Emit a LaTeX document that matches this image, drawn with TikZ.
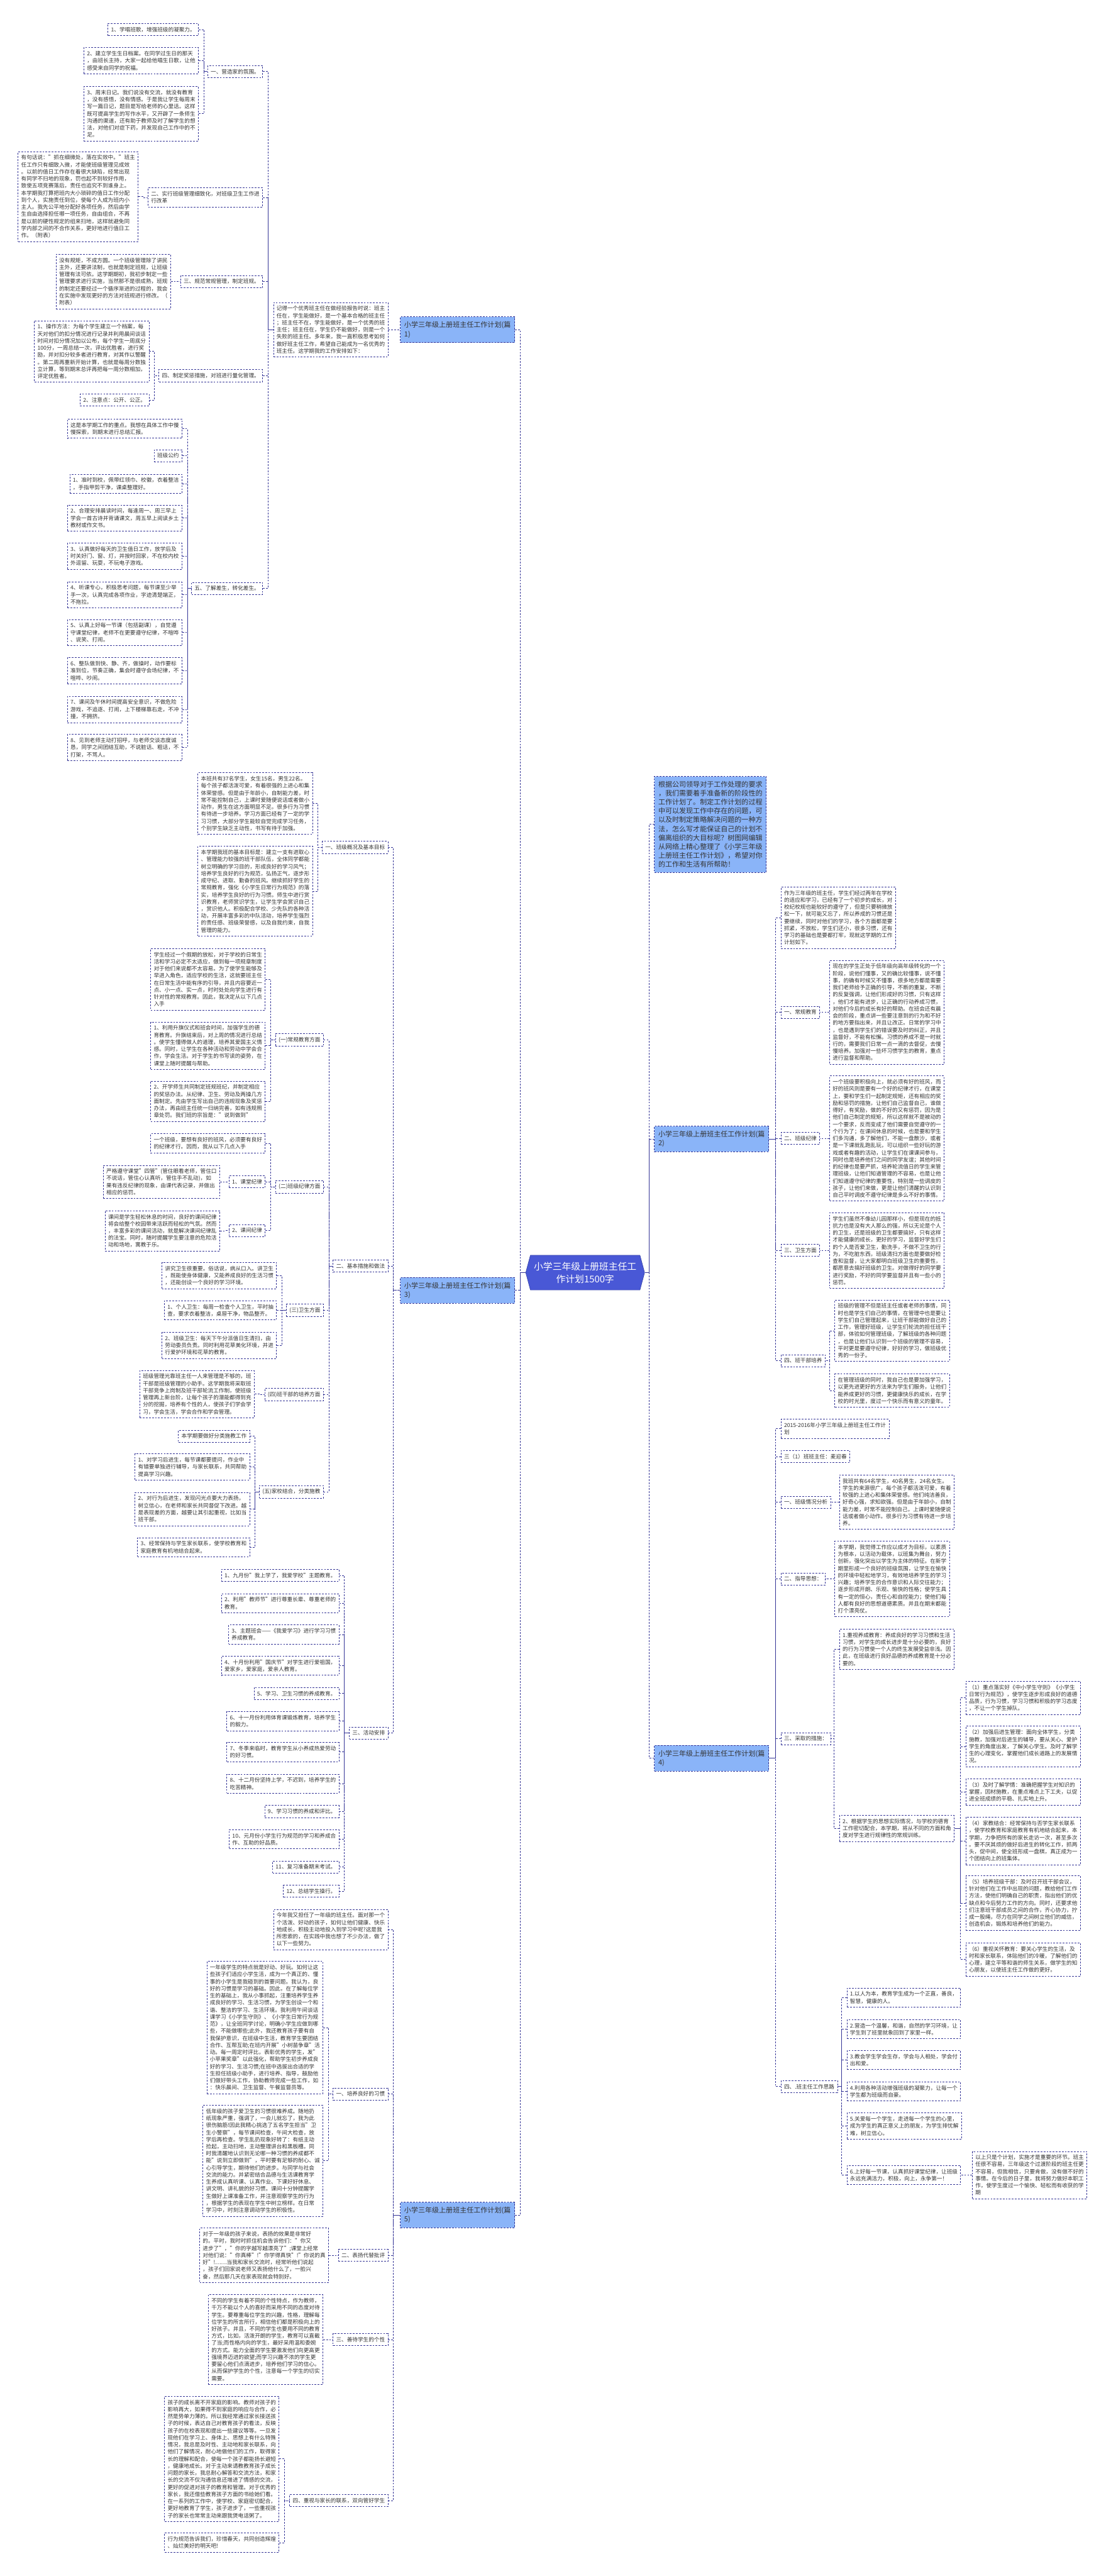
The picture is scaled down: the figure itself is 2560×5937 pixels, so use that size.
\documentclass[tikz,border=0pt]{standalone}
\usepackage{fontspec}
\setmainfont{Noto Sans CJK SC}
\usepackage{tikz}
\usetikzlibrary{shapes.symbols}
\definecolor{linkblue}{RGB}{52,52,150}
\definecolor{topicblue}{RGB}{138,180,248}
\definecolor{rootblue}{RGB}{73,88,214}
\definecolor{txtgray}{RGB}{51,51,51}

\begin{document}
\begin{tikzpicture}[
    x=1pt, y=-1pt,
    leaf/.style={draw=linkblue, dash pattern=on 4pt off 3pt, line width=1.2pt, fill=white, align=left,
        inner xsep=7pt, inner ysep=8pt, text=txtgray, font=\fontsize{12.5}{16.3}\selectfont},
    topic/.style={leaf, fill=topicblue, inner xsep=9pt, inner ysep=11pt, font=\fontsize{16}{20.5}\selectfont},
    mainnode/.style={signal, signal to=east and west, signal pointer angle=150, fill=rootblue,
        draw=rootblue!80!black, line width=1pt, text=white, align=center, inner xsep=8pt,
        minimum height=80pt, font=\fontsize{21.5}{28.7}\selectfont},
    link/.style={draw=linkblue, dash pattern=on 4pt off 3pt, line width=1.2pt}
]
\fill[white] (0,0) rectangle (2560,5937);
\useasboundingbox (0,0) rectangle (2560,5937);

\node[mainnode] (root) at (1349,2933) {小学三年级上册班主任工\\作计划1500字};

% 篇1
\node[topic, anchor=east] (p1) at (1187,760) {小学三年级上册班主任工作计划(篇\\1)};
\node[leaf, anchor=east] (p1i) at (895,760) {记得一个优秀班主任在做经验报告时说：班主\\任在，学生能做好，是一个基本合格的班主任\\；班主任不在，学生能做好，是一个优秀的班\\主任；班主任在，学生仍不能做好，则是一个\\失败的班主任。多年来，我一直积极思考如何\\做好班主任工作，希望自己能成为一名优秀的\\班主任。这学期我的工作安排如下：};
\node[leaf, anchor=east] (p1a) at (606,165) {一、营造家的氛围。};
\node[leaf, anchor=east] (p1a1) at (458,68) {1、学唱班歌，增强班级的凝聚力。};
\node[leaf, anchor=east] (p1a2) at (458,140) {2、建立学生生日档案。在同学过生日的那天\\，由班长主持，大家一起给他唱生日歌，让他\\感受来自同学的祝福。};
\node[leaf, anchor=east] (p1a3) at (458,262) {3、周末日记。我们说没有交流，就没有教育\\，没有感悟，没有情感。于是我让学生每周末\\写一篇日记，题目是写给老师的心里话。这样\\既可提高学生的写作水平，又开辟了一条师生\\沟通的渠道，还有助于教师及时了解学生的想\\法，对他们对症下药，并发现自己工作中的不\\足。};
\node[leaf, anchor=east] (p1b) at (606,455) {二、实行班级管理细致化，对班级卫生工作进\\行改革};
\node[leaf, anchor=east] (p1b1) at (319,453) {有句话说："抓在细微处，落在实效中。"班主\\任工作只有细致入微，才能使班级管理见成效\\。以前的值日工作存在着很大缺陷，经常出现\\有同学不扫地的现象，罚也起不到较好作用，\\致使五项竞赛落后，责任也追究不到谁身上。\\本学期我打算把班内大小琐碎的值日工作分配\\到个人，实施责任到位，使每个人成为班内小\\主人。我先公平地分配好各项任务，然后由学\\生自由选择担任哪一项任务，自由组合，不再\\是以前的硬性规定的组来扫地，这样就避免同\\学内部之间的不合作关系，更好地进行值日工\\作。（附表）};
\node[leaf, anchor=east] (p1c) at (606,649) {三、规范常规管理，制定班规。};
\node[leaf, anchor=east] (p1c1) at (394,649) {没有规矩，不成方圆。一个班级管理除了讲民\\主外，还要讲法制，也就是制定班规，让班级\\管理有法可依。这学期期初，我初步制定一些\\管理要求进行实施，当然那不是很成熟，班规\\的制定还要经过一个循序渐进的过程的，我会\\在实施中发现更好的方法对班规进行修改。（\\附表）};
\node[leaf, anchor=east] (p1d) at (606,866) {四、制定奖惩措施，对班进行量化管理。};
\node[leaf, anchor=east] (p1d1) at (344,810) {1、操作方法：为每个学生建立一个档案，每\\天对他们的扣分情况进行记录并利用晨间谈话\\时间对扣分情况加以公布，每个学生一周底分\\100分，一周总结一次，评出优胜者，进行奖\\励，并对扣分较多者进行教育，对其作以警醒\\。第二周再重新开始计算，也就是每周分数独\\立计算，等到期末总评再把每一周分数相加，\\评定优胜者。};
\node[leaf, anchor=east] (p1d2) at (344,922) {2、注意点：公开、公正。};
\node[leaf, anchor=east] (p1e) at (606,1356) {五、了解差生，转化差生。};
\node[leaf, anchor=east] (p1e1) at (420,988) {这是本学期工作的重点。我想在具体工作中慢\\慢探索，到期末进行总结汇报。};
\node[leaf, anchor=east] (p1e2) at (420,1050) {班级公约};
\node[leaf, anchor=east] (p1e3) at (420,1115) {1、准时到校，佩带红领巾、校徽，衣着整洁\\，手指甲剪干净，课桌整理好。};
\node[leaf, anchor=east] (p1e4) at (420,1194) {2、合理安排晨读时间，每逢周一、周三早上\\学会一首古诗并背诵课文，周五早上阅读乡土\\教材或作文书。};
\node[leaf, anchor=east] (p1e5) at (420,1282) {3、认真做好每天的卫生值日工作，放学后及\\时关好门、窗、灯，并按时回家，不在校内校\\外逗留、玩耍，不玩电子游戏。};
\node[leaf, anchor=east] (p1e6) at (420,1371) {4、听课专心，积极思考问题，每节课至少举\\手一次，认真完成各项作业，字迹清楚端正，\\不拖拉。};
\node[leaf, anchor=east] (p1e7) at (420,1458) {5、认真上好每一节课（包括副课），自觉遵\\守课堂纪律，老师不在更要遵守纪律，不喧哗\\、说笑、打闹。};
\node[leaf, anchor=east] (p1e8) at (420,1546) {6、整队做到快、静、齐，做操时，动作要标\\准到位，节奏正确，集会时遵守会场纪律，不\\喧哗、吵闹。};
\node[leaf, anchor=east] (p1e9) at (420,1635) {7、课间及午休时间提高安全意识，不做危险\\游戏，不追逐、打闹，上下楼梯靠右走，不冲\\撞，不拥挤。};
\node[leaf, anchor=east] (p1e10) at (420,1723) {8、见到老师主动打招呼，与老师交谈态度诚\\恳，同学之间团结互助，不说脏话、粗话，不\\打架，不骂人。};

% 篇3
\node[topic, anchor=east] (p3) at (1187,2974) {小学三年级上册班主任工作计划(篇\\3)};
\node[leaf, anchor=east] (p3a) at (895,1953) {一、班级概况及基本目标};
\node[leaf, anchor=east] (p3a1) at (721,1852) {本班共有37名学生，女生15名，男生22名。\\每个孩子都活泼可爱，有着很强的上进心和集\\体荣誉感。但是由于年龄小，自制能力差，时\\常不能控制自己，上课时爱随便说话或者做小\\动作，男生在这方面明显不足。很多行为习惯\\有待进一步培养。学习方面已经有了一定的学\\习习惯，大部分学生能较自觉完成学习任务，\\个别学生缺乏主动性，书写有待于加强。};
\node[leaf, anchor=east] (p3a2) at (721,2054) {本学期我班的基本目标是：建立一支有进取心\\、管理能力较强的班干部队伍，全体同学都能\\树立明确的学习目的，形成良好的学习风气；\\培养学生良好的行为规范，弘扬正气，逐步形\\成守纪、进取、勤奋的班风。继续抓好学生的\\常规教育，强化《小学生日常行为规范》的落\\实，培养学生良好的行为习惯。师生中进行赏\\识教育，老师赏识学生，让学生学会赏识自己\\，赏识他人。积极配合学校、少先队的各种活\\动，开展丰富多彩的中队活动，培养学生强烈\\的责任感、班级荣誉感，以及自我约束，自我\\管理的能力。};
\node[leaf, anchor=east] (p3b) at (895,2918) {二、基本措施和做法};
\node[leaf, anchor=east] (p3b1) at (746,2397) {(一)常规教育方面};
\node[leaf, anchor=east] (p3b1x1) at (612,2257) {学生经过一个假期的放松，对于学校的日常生\\活和学习必定不太适应，做到每一项规章制度\\对于他们来说都不太容易。为了使学生能够及\\早进入角色，适应学校的生活，这就要班主任\\在日常生活中能有序的引导，并且内容要近一\\点、小一点、实一点，时时处处向学生进行有\\针对性的常规教育。因此，我决定从以下几点\\入手};
\node[leaf, anchor=east] (p3b1x2) at (612,2410) {1、利用升旗仪式和班会时间，加强学生的德\\育教育。升旗结束后，对上周的情况进行总结\\。使学生懂得做人的道理，培养其爱国主义情\\感。同时，让学生在各种活动和劳动中学会合\\作，学会生活。对于学生的书写读的姿势，在\\课堂上随时提醒与帮助。};
\node[leaf, anchor=east] (p3b1x3) at (612,2538) {2、开学师生共同制定班规班纪，并制定相应\\的奖惩办法。从纪律、卫生、劳动及两操几方\\面制定。先由学生写出自己的违规现象及奖惩\\办法，再由班主任统一归纳完善，如有违规照\\章处罚。我们班的宗旨是："说到做到"};
\node[leaf, anchor=east] (p3b2) at (746,2735) {(二)班级纪律方面};
\node[leaf, anchor=east] (p3b2x1) at (612,2635) {一个班级，要想有良好的班风，必须要有良好\\的纪律才行。因而，我从以下几点入手};
\node[leaf, anchor=east] (p3b2x2) at (612,2724) {1、课堂纪律};
\node[leaf, anchor=east] (p3b2x2c) at (507,2724) {严格遵守课堂"四管"(管住眼看老师，管住口\\不说话，管住心认真听，管住手不乱动)，如\\果有违反纪律的现象，由课代表记录，并做出\\相应的惩罚。};
\node[leaf, anchor=east] (p3b2x3) at (612,2836) {2、课间纪律};
\node[leaf, anchor=east] (p3b2x3c) at (507,2837) {课间是学生轻松休息的时间，良好的课间纪律\\将会给整个校园带来活跃而轻松的气氛。然而\\，丰富多彩的课间活动，就是解决课间纪律乱\\的法宝。同时，随时提醒学生要注意的危险活\\动和场地，寓教于乐。};
\node[leaf, anchor=east] (p3b3) at (746,3020) {(三)卫生方面};
\node[leaf, anchor=east] (p3b3x1) at (638,2940) {讲究卫生很重要。俗话说，病从口入。讲卫生\\，既能使身体健康，又能养成良好的生活习惯\\，还能创设一个良好的学习环境。};
\node[leaf, anchor=east] (p3b3x2) at (638,3020) {1、个人卫生：每周一检查个人卫生，平时抽\\查，要求衣着整洁，桌屉干净，物品整齐。};
\node[leaf, anchor=east] (p3b3x3) at (638,3101) {2、班级卫生：每天下午分派值日生清扫，由\\劳动委员负责。同时利用花草美化环境，并进\\行爱护环境和花草的教育。};
\node[leaf, anchor=east] (p3b4) at (746,3214) {(四)班干部的培养方面};
\node[leaf, anchor=east] (p3b4x1) at (587,3213) {班级管理光靠班主任一人来管理是不够的，班\\干部是班级管理的小助手。这学期我将采取班\\干部竞争上岗制及班干部轮流工作制，使班级\\管理再上新台阶，让每个孩子的潜能都得到充\\分的挖掘，培养有个性的人，使孩子们学会学\\习，学会生活，学会合作和学会管理。};
\node[leaf, anchor=east] (p3b5) at (746,3438) {(五)家校结合，分类施教};
\node[leaf, anchor=east] (p3b5x1) at (576,3310) {本学期要做好分类施教工作};
\node[leaf, anchor=east] (p3b5x2) at (576,3381) {1、对学习后进生，每节课都要提问，作业中\\有错要单独进行辅导，与家长联系，共同帮助\\提高学习兴趣。};
\node[leaf, anchor=east] (p3b5x3) at (576,3478) {2、对行为后进生，发现闪光点要大力表扬，\\树立信心，在老师和家长共同督促下改进。越\\是表现差的方面，越要让其引起重视，比如当\\班干部。};
\node[leaf, anchor=east] (p3b5x4) at (576,3566) {3、经常保持与学生家长联系，使学校教育和\\家庭教育有机地结合起来。};
\node[leaf, anchor=east] (p3c) at (895,3994) {三、活动安排};
\node[leaf, anchor=east] (p3c1) at (782,3631) {1、九月份"我上学了，我爱学校"主题教育。};
\node[leaf, anchor=east] (p3c2) at (782,3695) {2、利用"教师节"进行尊重长辈、尊重老师的\\教育。};
\node[leaf, anchor=east] (p3c3) at (782,3767) {3、主题班会——《我爱学习》进行学习习惯\\养成教育。};
\node[leaf, anchor=east] (p3c4) at (782,3839) {4、十月份利用"国庆节"对学生进行爱祖国，\\爱家乡，爱家庭，爱亲人教育。};
\node[leaf, anchor=east] (p3c5) at (782,3903) {5、学习、卫生习惯的养成教育。};
\node[leaf, anchor=east] (p3c6) at (782,3967) {6、十一月份利用体育课锻炼教育，培养学生\\的毅力。};
\node[leaf, anchor=east] (p3c7) at (782,4038) {7、冬季来临时，教育学生从小养成热爱劳动\\的好习惯。};
\node[leaf, anchor=east] (p3c8) at (782,4111) {8、十二月份坚持上学，不迟到，培养学生的\\吃苦精神。};
\node[leaf, anchor=east] (p3c9) at (782,4175) {9、学习习惯的养成和评比。};
\node[leaf, anchor=east] (p3c10) at (782,4239) {10、元月份小学生行为规范的学习和养成合\\作、互助的好品质。};
\node[leaf, anchor=east] (p3c11) at (782,4303) {11、复习准备期末考试。};
\node[leaf, anchor=east] (p3c12) at (782,4359) {12、总结学生操行。};

% 篇5
\node[topic, anchor=east] (p5) at (1187,5105) {小学三年级上册班主任工作计划(篇\\5)};
\node[leaf, anchor=east] (p5i) at (895,4447) {今年我又担任了一年级的班主任。面对那一个\\个活泼、好动的孩子，如何让他们健康、快乐\\地成长，积极主动地投入到学习中呢?这是我\\所思索的，在实践中我也想了不少办法，做了\\以下一些努力。};
\node[leaf, anchor=east] (p5a) at (895,4826) {一、培养良好的习惯};
\node[leaf, anchor=east] (p5a1) at (745,4673) {一年级学生的特点就是好动、好玩。如何让这\\些孩子们适应小学生活，成为一个真正的、懂\\事的小学生是我碰到的首要问题。我认为，良\\好的习惯是学习的基础。因此，在了解每位学\\生的基础上，我从小事抓起，注重培养学生养\\成良好的学习、生活习惯，为学生创设一个和\\谐、整洁的学习、生活环境。我利用午间谈话\\课学习《小学生守则》、《小学生日常行为规\\范》，让全班同学讨论，明确小学生应做到哪\\些，不能做哪些;此外，我还教育孩子要有自\\我保护意识，在班级中生活，教育学生要团结\\合作、互帮互助;在班内开展"小树苗争章"活\\动。每一周定时评比，表彰优秀的学生，发"\\小苹果奖章"以此强化，帮助学生初步养成良\\好的学习、生活习惯;在班中选拔出合适的学\\生担任班级小助手，进行培养、指导，鼓励他\\们做好带头工作，协助教师完成一些工作，如\\：快乐晨间、卫生监督、午餐监督员等。};
\node[leaf, anchor=east] (p5a2) at (745,4980) {低年级的孩子爱卫生的习惯很难养成。随地扔\\纸现象严重，强调了，一会儿就忘了，我为此\\很伤脑筋!因此我精心挑选了五名学生担当"卫\\生小警察"，每节课间检查，午间大检查，放\\学后再检查。学生乱扔现象好转了：有纸主动\\捡起，主动扫地，主动整理讲台和黑板槽。同\\时我清醒地认识到无论哪一种习惯的养成都不\\能"说到立即做到"，平时要有足够的耐心、诚\\心引导学生，期待他们的进步。与同学与社会\\交流的能力。并紧密结合品德与生活课教育学\\生养成认真听课、认真作业、下课好好休息、\\讲文明、讲礼貌的好习惯。课间十分钟提醒学\\生做好上课准备工作，并注意观察学生的行为\\，根据学生的表现在学生中树立榜样。在日常\\学习中，时刻注意调动学生的积极性。};
\node[leaf, anchor=east] (p5b) at (895,5198) {二、表扬代替批评};
\node[leaf, anchor=east] (p5b1) at (758,5198) {对于一年级的孩子来说，表扬的效果是非常好\\的。平时，我时时抓住机会告诉他们："你又\\进步了"，"你的字越写越漂亮了";课堂上经常\\对他们说："你真棒"!"你学得真快"!"你说的真\\好"!……当我和家长交流时，经常听他们说起\\，孩子们回家说老师又表扬他什么了，一脸兴\\奋，然后那几天在家表现就会特别好。};
\node[leaf, anchor=east] (p5c) at (895,5392) {三、善待学生的个性};
\node[leaf, anchor=east] (p5c1) at (745,5392) {不同的学生有着不同的个性特点，作为教师，\\千万不能以个人的喜好而采用不同的态度对待\\学生。要尊重每位学生的兴趣，性格，理解每\\位学生的所言所行，相信他们都是积极向上的\\好孩子。并且，不同的学生也要用不同的教育\\方式，比如，活泼开朗的学生，教育可以直截\\了当;而性格内向的学生，最好采用温和委婉\\的方式。能力全面的学生要激发他们向更高更\\强境界迈进的欲望;而学习兴趣不浓的学生更\\要留心他们点滴进步，培养他们学习的信心。\\从而保护学生的个性，注意每一个学生的切实\\需要。};
\node[leaf, anchor=east] (p5d) at (895,5763) {四、重视与家长的联系，双向管好学生};
\node[leaf, anchor=east] (p5d1) at (644,5667) {孩子的成长离不开家庭的影响。教师对孩子的\\影响再大，如果得不到家庭的响应与合作，必\\然是势单力薄的。所以我经常通过家长接送孩\\子的时候，表达自己对教育孩子的看法，反映\\孩子的在校表现和提出一些建议等等。一旦发\\现他们在学习上、身体上、思想上有什么特殊\\情况，我总是及时性、主动地和家长联系，向\\他们了解情况，耐心地做他们的工作，取得家\\长的理解和配合，使每一个孩子都能扬长避短\\，健康地成长。对于主动来请教教育孩子成长\\问题的家长，我总耐心解答和交流方法，和家\\长的交流不仅沟通信息还增进了情感的交流，\\更好的促进对孩子的教育和管理。对于优秀的\\家长，我还借些教育孩子方面的书给她们看。\\在一系列的工作中，使学校、家庭密切配合，\\更好地教育了学生，孩子进步了，一些重视孩\\子的家长也常常主动来跟我煲电话粥了。};
\node[leaf, anchor=east] (p5d2) at (644,5860) {行为规范告诉我们，珍惜春天，共同创造辉煌\\、灿烂美好的明天吧!};

% right side
\node[topic, anchor=west] (intro) at (1508,1900) {根据公司领导对于工作处理的要求\\，我们需要着手准备新的阶段性的\\工作计划了。制定工作计划的过程\\中可以发现工作中存在的问题，可\\以及时制定策略解决问题的一种方\\法，怎么写才能保证自己的计划不\\偏离组织的大目标呢？树图网编辑\\从网络上精心整理了《小学三年级\\上册班主任工作计划》，希望对你\\的工作和生活有所帮助！};

% 篇2
\node[topic, anchor=west] (p2) at (1508,2625) {小学三年级上册班主任工作计划(篇\\2)};
\node[leaf, anchor=west] (p2i) at (1800,2115) {作为三年级的班主任，学生们经过两年在学校\\的适应和学习，已经有了一个初步的成长，对\\校纪校规也能较好的遵守了，但是只要稍微放\\松一下，就可能又忘了，所以养成的习惯还是\\要继续，同时对他们的学习，各个方面都是要\\抓紧，不放松，学生们还小，很多习惯，还有\\学习的基础也是要都打牢，现就这学期的工作\\计划如下。};
\node[leaf, anchor=west] (p2a) at (1800,2333) {一、常规教育};
\node[leaf, anchor=west] (p2a1) at (1912,2333) {现在的学生正处于低年级向高年级转化的一个\\阶段，说他们懂事，又的确比较懂事，说不懂\\事，的确有时候又不懂事，很多地方都是需要\\我们老师给予正确的引导，不断的重复，不断\\的反复强调，让他们形成好的习惯，只有这样\\，他们才能有进步，让正确的行动养成习惯，\\对他们今后的成长有好的帮助。在班会还有晨\\会的阶段，重点讲一些要注意到的行为和不好\\的地方要指出来，并且让改正。日常的学习中\\，也是遇到学生们的错误要及时的纠正，并且\\监督好，不能有松懈。习惯的养成不是一时就\\行的，需要我们日常一点一滴的去督促，去慢\\慢培养。加强对一些坏习惯学生的教育，重点\\进行监督和帮助。};
\node[leaf, anchor=west] (p2b) at (1800,2624) {二、班级纪律};
\node[leaf, anchor=west] (p2b1) at (1912,2624) {一个班级要积极向上，就必须有好的班风，而\\好的班风则是要有一个好的纪律才行，在课堂\\上，要和学生们一起制定规矩，还有相应的奖\\励和惩罚的措施，让他们自己监督自己，谁做\\得好，有奖励，做的不好的又有惩罚，因为是\\他们自己制定的规矩，所以这样就不是被动的\\一个要求，反而变成了他们需要自觉遵守的一\\个行为了；在课间休息的时候，也是要和学生\\们多沟通，多了解他们，不能一盘散沙，或者\\是一下课就乱跑乱玩，可以组织一些好玩的游\\戏或者有趣的活动，让学生们在课课间参与，\\同时也是培养他们之间的同学友谊；其他时间\\的纪律也是要严抓，培养轮流值日的学生来管\\理班级，让他们知道管理的不容易，也是让他\\们知道遵守纪律的重要性，特别是一些调皮的\\孩子，让他们来做，更是让他们清醒的认识到\\自己平时调皮不遵守纪律是多么不好的事情。};
\node[leaf, anchor=west] (p2c) at (1800,2882) {三、卫生方面};
\node[leaf, anchor=west] (p2c1) at (1912,2882) {学生们虽然不像幼儿园那样小，但是现在的抵\\抗力也是没有大人那么的强，所以无论是个人\\的卫生，还是班级的卫生都要搞好，只有这样\\才能健康的成长，更好的学习，监督好学生们\\的个人是否爱卫生，勤洗手，不做不卫生的行\\为，不吃脏东西，班级清扫方面也是要做好检\\查和监督，让大家都明白班级卫生的重要性，\\都愿意去搞好班级的卫生。对做得好的同学要\\进行奖励，不好的同学要监督并且有一些小的\\惩罚。};
\node[leaf, anchor=west] (p2d) at (1800,3136) {四、班干部培养};
\node[leaf, anchor=west] (p2d1) at (1924,3067) {班级的管理不但是班主任或者老师的事情，同\\时也是学生们自己的事情，在管理中也是要让\\学生们自己管理起来，让班干部能做好自己的\\工作，管理好班级，让学生们轮流的担任班干\\部，体验如何管理班级，了解班级的各种问题\\，也是让他们认识到一个班级的管理不容易，\\平时更是要遵守纪律，好好的学习，做班级优\\秀的一份子。};
\node[leaf, anchor=west] (p2d2) at (1924,3205) {在管理班级的同时，我自己也是要加强学习，\\以更先进更好的方法来为学生们服务，让他们\\能养成更好的习惯，更健康快乐的成长，在学\\校的时光里，度过一个快乐而有意义的童年。};

% 篇4
\node[topic, anchor=west] (p4) at (1508,4052) {小学三年级上册班主任工作计划(篇\\4)};
\node[leaf, anchor=west] (p4t) at (1800,3293) {2015-2016年小学三年级上册班主任工作计\\划};
\node[leaf, anchor=west] (p4u) at (1800,3357) {三（1）班班主任：麦迎春};
\node[leaf, anchor=west] (p4a) at (1800,3462) {一、班级情况分析};
\node[leaf, anchor=west] (p4a1) at (1935,3462) {我班共有64名学生，40名男生，24名女生。\\学生的来源很广，每个孩子都活泼可爱，有着\\较强的上进心和集体荣誉感。他们纯洁善良，\\好奇心强，求知欲强。但是由于年龄小，自制\\能力差，时常不能控制自己，上课时爱随便说\\话或者做小动作。很多行为习惯有待进一步培\\养。};
\node[leaf, anchor=west] (p4b) at (1800,3639) {二、指导思想：};
\node[leaf, anchor=west] (p4b1) at (1924,3639) {本学期，我觉得工作应以成才为目标，以素质\\为根本，以活动为载体，以班集为舞台，努力\\创新，强化突出以学生为主体的特征。在新学\\期里形成一个良好的班级氛围，让学生在愉快\\的环境中轻松地学习，有效地培养学生的学习\\兴趣；培养学生的合作意识和人际交往能力；\\逐步形成开朗、乐观、愉快的性格；使学生具\\有一定的恒心，责任心和自控能力；使他们每\\人都有良好的思想道德素质。并且在期末都能\\打个漂亮仗。};
\node[leaf, anchor=west] (p4c) at (1800,4007) {三、采取的措施：};
\node[leaf, anchor=west] (p4c1) at (1935,3801) {1.重视养成教育：养成良好的学习习惯和生活\\习惯，对学生的成长进步是十分必要的，良好\\的行为习惯使一个人的终生发展受益非浅。因\\此，在班级进行良好品德的养成教育是十分必\\要的。};
\node[leaf, anchor=west] (p4c2) at (1935,4214) {2、根据学生的思想实际情况，与学校的德育\\工作密切配合，本学期，将从不同的方面和角\\度对学生进行规律性的常规训练。};
\node[leaf, anchor=west] (p4c2x1) at (2226,3913) {（1）重点落实好《中小学生守则》《小学生\\日常行为规范》，使学生逐步形成良好的道德\\品质，行为习惯，学习习惯和积极的学习态度\\，不让一个学生掉队。};
\node[leaf, anchor=west] (p4c2x2) at (2226,4025) {（2）加强后进生管理：面向全体学生，分类\\施教，加强对后进生的辅导，要从关心、爱护\\学生的角度出发，了解关心学生。及时了解学\\生的心理变化，掌握他们成长道路上的发展情\\况。};
\node[leaf, anchor=west] (p4c2x3) at (2226,4130) {（3）及时了解学情：准确把握学生对知识的\\掌握，因材施教，在重点难点上下工夫，以促\\进全班成绩的平稳、扎实地上升。};
\node[leaf, anchor=west] (p4c2x4) at (2226,4243) {（4）家教结合：经常保持与否学生家长联系\\，使学校教育和家庭教育有机地结合起来，本\\学期，力争把所有的家长走访一次，甚至多次\\。要不厌其烦的做好后进生的转化工作，抓两\\头，促中间，使全班形成一盘棋，真正成为一\\个团结向上的班集体。};
\node[leaf, anchor=west] (p4c2x5) at (2226,4386) {（5）培养班级干部：及时召开班干部会议，\\针对他们在工作中出现的问题，教给他们工作\\方法，使他们明确自己的职责，指出他们的优\\缺点和今后努力工作的方向。同时，还要求他\\们注意班干部成员之间的合作，齐心协力，拧\\成一股绳，尽力在同学之间树立他们的威信，\\创造机会，锻炼和培养他们的能力。};
\node[leaf, anchor=west] (p4c2x6) at (2226,4516) {（6）重视关怀教育：要关心学生的生活，及\\时和家长联系，体贴他们的冷暖，了解他们的\\心理，建立平等和谐的师生关系，做学生的知\\心朋友，以使班主任工作做的更好。};
\node[leaf, anchor=west] (p4d) at (1800,4809) {四、.班主任工作思路};
\node[leaf, anchor=west] (p4d1) at (1952,4604) {1.以人为本，教育学生成为一个正直，善良，\\智慧，健康的人。};
\node[leaf, anchor=west] (p4d2) at (1952,4677) {2.营造一个温馨，和谐，自然的学习环境，让\\学生到了班里就象回到了家里一样。};
\node[leaf, anchor=west] (p4d3) at (1952,4748) {3.教会学生学会生存，学会与人相处，学会付\\出和爱。};
\node[leaf, anchor=west] (p4d4) at (1952,4820) {4.利用各种活动增强班级的凝聚力，让每一个\\学生都为班级而自豪。};
\node[leaf, anchor=west] (p4d5) at (1952,4900) {5.关爱每一个学生，走进每一个学生的心里，\\成为学生的真正意义上的朋友，为学生排忧解\\难，树立信心。};
\node[leaf, anchor=west] (p4d6) at (1952,5013) {6.上好每一节课，认真抓好课堂纪律，让班级\\永远充满活力，积极，向上，永争第一！};
\node[leaf, anchor=west] (p4d6x) at (2241,5013) {以上只是个计划，实施才是重要的环节。班主\\任很不容易，三年级这个过渡阶段的班主任更\\不容易，但我相信，只要肯做，没有做不好的\\事情。在今后的日子里，我将努力做好本职工\\作，使学生度过一个愉快、轻松而有收获的学\\期};

% connectors, left side
\foreach \p/\c in {root/p1, root/p3, root/p5,
    p1/p1i, p1i/p1a, p1i/p1b, p1i/p1c, p1i/p1d, p1i/p1e,
    p1a/p1a1, p1a/p1a2, p1a/p1a3, p1b/p1b1, p1c/p1c1, p1d/p1d1, p1d/p1d2,
    p1e/p1e1, p1e/p1e2, p1e/p1e3, p1e/p1e4, p1e/p1e5, p1e/p1e6, p1e/p1e7, p1e/p1e8, p1e/p1e9, p1e/p1e10,
    p3/p3a, p3/p3b, p3/p3c, p3a/p3a1, p3a/p3a2,
    p3b/p3b1, p3b/p3b2, p3b/p3b3, p3b/p3b4, p3b/p3b5,
    p3b1/p3b1x1, p3b1/p3b1x2, p3b1/p3b1x3,
    p3b2/p3b2x1, p3b2/p3b2x2, p3b2/p3b2x3, p3b2x2/p3b2x2c, p3b2x3/p3b2x3c,
    p3b3/p3b3x1, p3b3/p3b3x2, p3b3/p3b3x3, p3b4/p3b4x1,
    p3b5/p3b5x1, p3b5/p3b5x2, p3b5/p3b5x3, p3b5/p3b5x4,
    p3c/p3c1, p3c/p3c2, p3c/p3c3, p3c/p3c4, p3c/p3c5, p3c/p3c6,
    p3c/p3c7, p3c/p3c8, p3c/p3c9, p3c/p3c10, p3c/p3c11, p3c/p3c12,
    p5/p5i, p5/p5a, p5/p5b, p5/p5c, p5/p5d, p5a/p5a1, p5a/p5a2,
    p5b/p5b1, p5c/p5c1, p5d/p5d1, p5d/p5d2}
    \draw[link] (\c.east) -- ++(12,0) |- (\p.west);

% connectors, right side
\foreach \p/\c in {root/intro, root/p2, root/p4,
    p2/p2i, p2/p2a, p2/p2b, p2/p2c, p2/p2d,
    p2a/p2a1, p2b/p2b1, p2c/p2c1, p2d/p2d1, p2d/p2d2,
    p4/p4t, p4/p4u, p4/p4a, p4/p4b, p4/p4c, p4/p4d,
    p4a/p4a1, p4b/p4b1, p4c/p4c1, p4c/p4c2,
    p4c2/p4c2x1, p4c2/p4c2x2, p4c2/p4c2x3, p4c2/p4c2x4, p4c2/p4c2x5, p4c2/p4c2x6,
    p4d/p4d1, p4d/p4d2, p4d/p4d3, p4d/p4d4, p4d/p4d5, p4d/p4d6, p4d6/p4d6x}
    \draw[link] (\c.west) -- ++(-12,0) |- (\p.east);
\end{tikzpicture}
\end{document}
